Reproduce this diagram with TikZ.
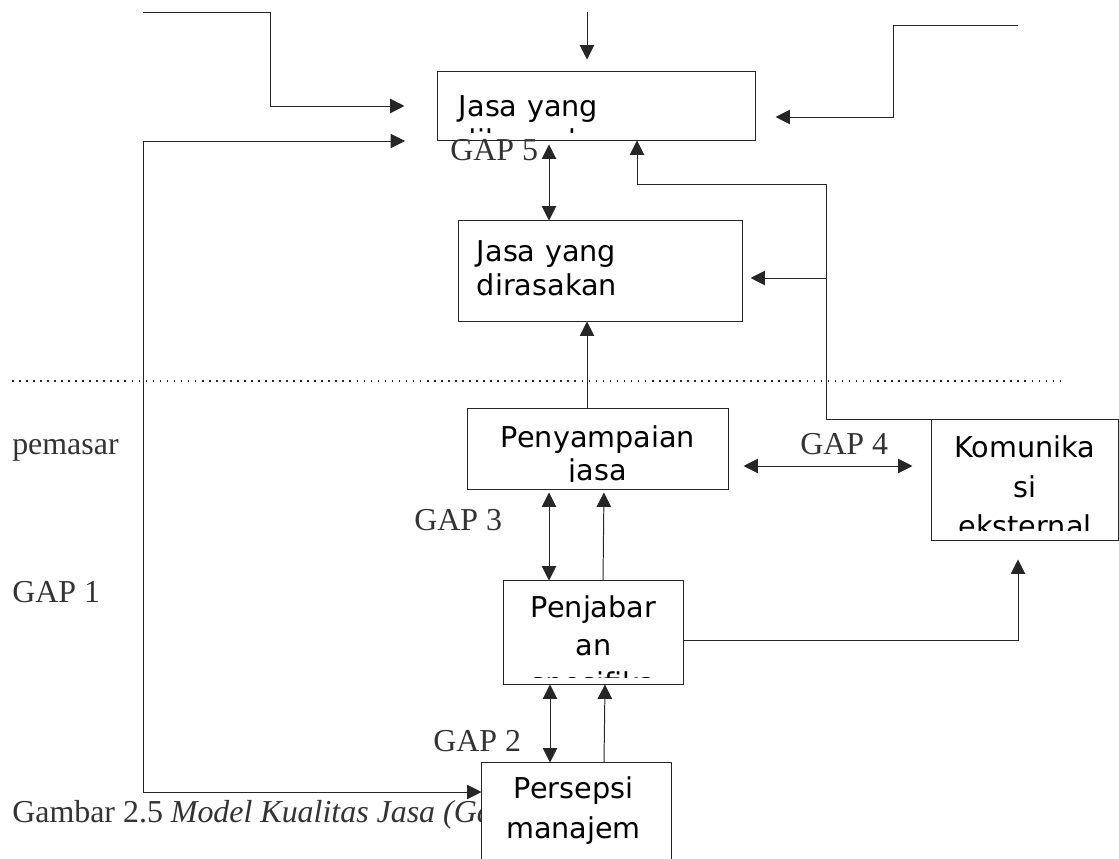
\documentclass[tikz,border=0pt]{standalone}
\usepackage{fontspec}
\setmainfont{Liberation Serif}
\newfontfamily\boxfont{DejaVu Sans}
\usetikzlibrary{arrows.meta}
\newcommand{\unitpx}{0.025cm}

\begin{document}
\begin{tikzpicture}[x=0.025cm, y=-0.025cm,
	line/.style={draw=black!85, line width=0.7pt},
	tip/.style={line, -{Triangle[length=0.36cm, width=0.36cm]}},
	dtip/.style={line, {Triangle[length=0.36cm, width=0.36cm]}-{Triangle[length=0.36cm, width=0.36cm]}},
	box/.style={draw=black!85, fill=white, line width=0.7pt, inner sep=0pt},
	txt/.style={inner sep=0pt, font=\boxfont\fontsize{20.4}{#1}\selectfont},
	lbl/.style={inner sep=0pt, anchor=base west, text=black!80, font=\fontsize{22.7}{27}\selectfont}]
\clip (0,0) rectangle (1119,859);

\node[lbl] (cap) at (12,822) {Gambar 2.5 \textit{Model Kualitas Jasa (Ga}};

% centred blocks sit on their last line, left blocks on their first
\node[box, minimum width=7.925cm, minimum height=1.7cm, path picture={
	\clip (path picture bounding box.north west) rectangle ([yshift=8*\unitpx]path picture bounding box.south east);
	\node[txt=24.1, text width=7cm, align=left, anchor=base west] at ([shift={(2,45)}]path picture bounding box.north west) {Jasa yang\\diharapkan};
}] (harap) at (596.5,106) {};
\node[box, minimum width=7.075cm, minimum height=2.5cm, path picture={
	\node[txt=24.1, text width=6.5cm, align=left, anchor=base west] at ([shift={(6,41)}]path picture bounding box.north west) {Jasa yang\\dirasakan};
}] (rasa) at (600.5,271) {};
\node[box, minimum width=6.5cm, minimum height=2cm, path picture={
	\clip (path picture bounding box.north west) rectangle ([yshift=8*\unitpx]path picture bounding box.south east);
	\node[txt=24.1, align=center, anchor=base] at ([shift={(0,72)}]path picture bounding box.north) {Penyampaian\\jasa};
}] (sampai) at (598,449) {};
\node[box, minimum width=4.65cm, minimum height=3cm, path picture={
	\clip (path picture bounding box.north west) rectangle ([yshift=10*\unitpx]path picture bounding box.south east);
	\node[txt=28.4, align=center, anchor=base] at ([shift={(0,117)}]path picture bounding box.north) {Komunika\\si\\eksternal};
}] (komunikasi) at (1025,480) {};
\node[box, minimum width=4.475cm, minimum height=2.575cm, path picture={
	\clip (path picture bounding box.north west) rectangle ([yshift=7*\unitpx]path picture bounding box.south east);
	\node[txt=27, align=center, anchor=base] at ([shift={(0,150)}]path picture bounding box.north) {Penjabar\\an\\spesifika\\si};
}] (jabar) at (593.5,632.5) {};
\node[box, minimum width=4.725cm, minimum height=2.925cm, path picture={
	\node[txt=28.4, align=center, anchor=base] at ([shift={(-3,115)}]path picture bounding box.north) {Persepsi\\manajem\\en};
}] (persepsi) at (576.5,821.5) {};

\node[lbl] (pemasar) at (12,455) {pemasar};
\node[lbl] (gap1) at (12,602) {GAP 1};
\node[lbl] (gap5) at (450,161) {GAP 5};
\node[lbl] (gap4) at (800,455) {GAP 4};
\node[lbl] (gap3) at (414,531) {GAP 3};
\node[lbl] (gap2) at (433,751) {GAP 2};

\draw[black!85, line width=0.8pt, dash pattern=on 1.2pt off 3.8pt] (12,381) -- (1066,381);

\coordinate (tl) at (143,12);
\coordinate (tc) at (587,12);
\coordinate (tr) at (1018,25);
\coordinate (lf) at (405,141);
\coordinate (kt) at (1018,419);
\coordinate (rj) at (826,278);

\draw[tip, shorten >=0.825cm] (tl) -| (270,106) -- (harap.west);
\draw[tip, shorten >=0.3cm] (tc) -- (tc |- harap.north);
\draw[tip, shorten >=0.5cm] (tr) -| (893,117) -- (harap.east |- 0,117);
\draw[dtip] (lf) -| (143,792) -- (persepsi.west |- 0,792);
\draw[dtip, shorten <=0.1cm] (harap.south -| 549,0) -- (rasa.north -| 549,0);
\draw[tip] (kt) -| (826,184) -| (harap.south -| 637,0);
\draw[tip, shorten >=0.2cm] (rj) -- (rasa.east |- 0,278);
\draw[tip] (sampai.north -| 587,0) -- (rasa.south -| 587,0);
\draw[dtip, shorten <=0.375cm, shorten >=0.475cm] (sampai.east |- 0,466) -- (komunikasi.west |- 0,466);
\draw[dtip, shorten <=0.075cm] (sampai.south -| 549,0) -- (jabar.north -| 549,0);
\draw[tip, shorten >=0.075cm] (jabar.north -| 603,0) -- (sampai.south -| 604,0);
\draw[tip, shorten >=0.475cm] (jabar.east |- 0,640) -| (komunikasi.south -| 1018,0);
\draw[dtip] (jabar.south -| 550,0) -- (persepsi.north -| 550,0);
\draw[tip] (persepsi.north -| 604,0) -- (jabar.south -| 605,0);
\end{tikzpicture}
\end{document}
